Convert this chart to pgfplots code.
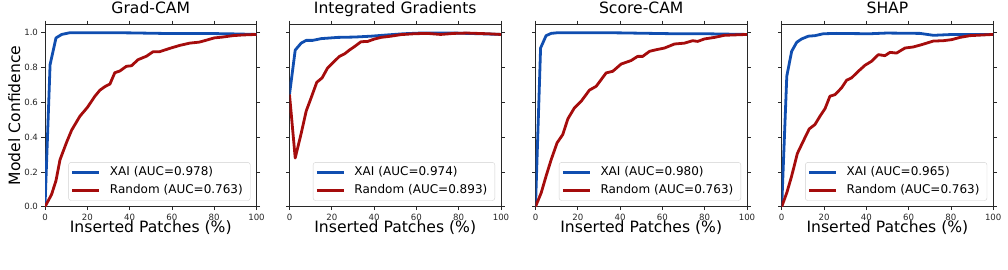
\documentclass[border=0pt]{standalone}
\usepackage{fontspec}
\setmainfont{DejaVu Sans}
\usepackage{pgfplots}
\pgfplotsset{compat=1.18}

\definecolor{xaiblue}{RGB}{16,78,176}
\definecolor{randred}{RGB}{165,12,12}
\definecolor{framegray}{RGB}{40,40,40}

\pgfplotsset{
  panel/.style={
    scale only axis, width=211.5pt, height=182.7pt,
    xmin=0, xmax=100, ymin=0, ymax=1.05,
    xtick={0,20,40,60,80,100},
    ytick={0,0.2,0.4,0.6,0.8,1.0},
    tick align=outside, major tick length=3.5pt,
    tick style={framegray, line width=0.8pt},
    axis line style={framegray, line width=0.8pt},
    /pgf/number format/assume math mode=true,
    tick label style={font=\fontsize{8.6}{10}\selectfont, text=black!85},
    yticklabel style={/pgf/number format/.cd, fixed, fixed zerofill, precision=1},
    xlabel={Inserted Patches (\%)},
    label style={font=\fontsize{15.6}{18}\selectfont},
    xlabel style={at={(axis description cs:0.5,-0.1412)}, anchor=base},
    title style={at={(axis description cs:0.5,1.0246)}, anchor=base,
                 font=\fontsize{15.6}{18}\selectfont},
    legend cell align=left,
    legend style={
      at={(axis description cs:0.9716,0.0328)}, anchor=south east,
      draw=black!18, rounded corners=2.5pt, fill=white, fill opacity=0.8,
      text opacity=1, font=\fontsize{12}{14}\selectfont,
      inner xsep=2.3pt, inner ysep=0.6pt, row sep=0pt, column sep=9.3pt,
      nodes={inner xsep=0pt, inner ysep=3.6pt, text height=8.75pt,
             text depth=2.5pt, text width=138pt, align=left},
    },
    legend image code/.code={\draw[#1] (0pt,0pt) -- (27pt,0pt);},
    every axis plot/.append style={line width=2.8pt, line join=round},
  },
  xai/.style={color=xaiblue},
  rnd/.style={color=randred},
}

\begin{document}
\begin{tikzpicture}[x=1pt,y=1pt]
\path[use as bounding box] (0,0) rectangle (1008,269);

% Grad-CAM
\begin{axis}[panel, at={(45pt,62.3pt)}, anchor=south west,
  title={Grad-CAM}, ylabel={Model Confidence},
  ylabel style={at={(axis description cs:-0.1182,0.5)}, anchor=base}]
\addplot[xai] coordinates {
 (0,0) (2.4,0.816) (5.2,0.97) (7.9,0.99) (11.8,1.0) (20,1.0) (30,1.0)
 (40,0.999) (50,0.997) (60,0.995) (70,0.995) (80,0.995) (90,0.993) (100,0.99)};
\addplot[rnd] coordinates {
 (0,0) (3.1,0.07) (5.2,0.15) (7.1,0.27) (10.2,0.37) (12.6,0.44) (16.5,0.52)
 (20,0.57) (23.6,0.635) (26,0.67) (28.3,0.69) (30.7,0.705) (33,0.77)
 (35.4,0.78) (38.5,0.807) (40.9,0.81) (44,0.845) (48,0.865) (51,0.89)
 (54,0.89) (59,0.91) (63.7,0.927) (68.4,0.94) (73,0.946) (76,0.956)
 (80,0.97) (84,0.975) (88.8,0.983) (93.5,0.987) (100,0.99)};
\legend{XAI (AUC=0.978), Random (AUC=0.763)}
\end{axis}

% Integrated Gradients
\begin{axis}[panel, at={(289.5pt,62.3pt)}, anchor=south west,
  title={Integrated Gradients}, yticklabels={}]
\addplot[xai] coordinates {
 (0,0.645) (2.7,0.9) (5.5,0.94) (7.9,0.956) (11,0.956) (15,0.966)
 (22.8,0.973) (30.7,0.975) (38.5,0.98) (46,0.987) (54,0.994) (62,0.998)
 (78,0.998) (90,0.994) (100,0.99)};
\addplot[rnd] coordinates {
 (0,0.645) (2.7,0.28) (5.5,0.42) (7.9,0.55) (10.2,0.625) (12.9,0.715)
 (15.4,0.74) (18,0.797) (20.4,0.826) (23.6,0.864) (26,0.878) (28.3,0.9)
 (30.7,0.92) (33.8,0.948) (37,0.95) (40,0.963) (43.2,0.973) (48,0.98)
 (52.7,0.989) (59,0.994) (65,0.996) (71.4,0.99) (77.8,0.996) (84,0.998)
 (93.6,0.994) (100,0.99)};
\legend{XAI (AUC=0.974), Random (AUC=0.893)}
\end{axis}

% Score-CAM
\begin{axis}[panel, at={(535.5pt,62.3pt)}, anchor=south west,
  title={Score-CAM}, yticklabels={}]
\addplot[xai] coordinates {
 (0,0) (2.4,0.912) (5,0.983) (7.4,0.996) (10.5,1.0) (20,1.0) (30,1.0)
 (40,0.999) (50,0.997) (65.7,0.994) (80,0.994) (90,0.992) (100,0.99)};
\addplot[rnd] coordinates {
 (0,0) (2.7,0.08) (5,0.176) (7.4,0.27) (10.2,0.367) (12.9,0.415)
 (15.3,0.505) (18.4,0.568) (21.6,0.606) (25.5,0.67) (28.7,0.692)
 (33.4,0.769) (36.5,0.778) (40.5,0.82) (45.2,0.84) (48.3,0.864)
 (50.7,0.864) (53.9,0.893) (57,0.902) (61,0.912) (65.7,0.935) (70.4,0.94)
 (74.3,0.954) (76.7,0.95) (79.8,0.964) (84.6,0.973) (89.3,0.985) (100,0.99)};
\legend{XAI (AUC=0.980), Random (AUC=0.763)}
\end{axis}

% SHAP
\begin{axis}[panel, at={(781.7pt,62.3pt)}, anchor=south west,
  title={SHAP}, yticklabels={}]
\addplot[xai] coordinates {
 (0,0) (2.4,0.75) (4.7,0.893) (7.1,0.945) (9.4,0.964) (12.6,0.98)
 (15.7,0.983) (19.7,0.994) (26,0.996) (33,0.995) (41.7,0.994) (49.6,0.998)
 (58,0.997) (65.4,0.996) (71.7,0.985) (81,0.99) (90,0.99) (100,0.99)};
\addplot[rnd] coordinates {
 (0,0) (2.4,0.08) (4.7,0.176) (7.4,0.306) (10.2,0.377) (13,0.447)
 (15.7,0.472) (18.1,0.52) (20.5,0.564) (22.8,0.635) (25.2,0.644)
 (28.3,0.683) (30.7,0.727) (33,0.74) (36.2,0.778) (39.4,0.813)
 (42.5,0.836) (45.7,0.874) (48.8,0.868) (51.2,0.887) (54.3,0.883)
 (58.3,0.912) (62.2,0.918) (66.1,0.931) (71.7,0.952) (76.4,0.954)
 (80.3,0.96) (84.3,0.973) (89,0.983) (100,0.99)};
\legend{XAI (AUC=0.965), Random (AUC=0.763)}
\end{axis}
\end{tikzpicture}
\end{document}
